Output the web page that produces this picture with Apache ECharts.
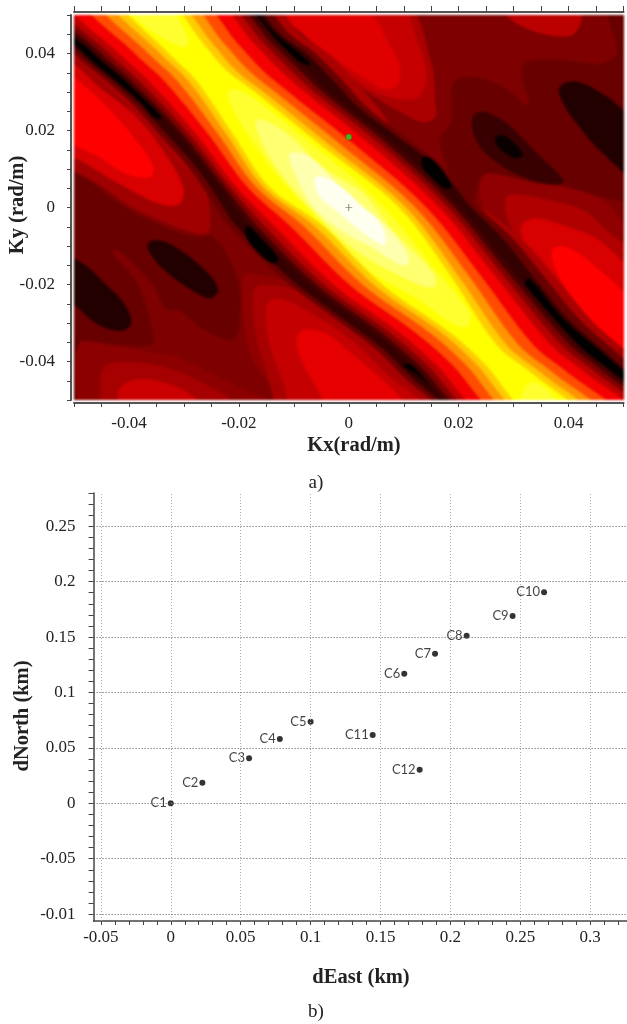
<!DOCTYPE html>
<html><head><meta charset="utf-8">
<style>html,body{margin:0;padding:0;background:#fff}#c{width:627px;height:1024px}</style>
<script src="https://cdn.jsdelivr.net/npm/echarts@6/dist/echarts.min.js"></script>
</head><body><div id="c"></div>
<script>
// ---- panel a) axis ticks (rad/m)
const kTicks=[-0.05,-0.045,-0.04,-0.035,-0.03,-0.025,-0.02,-0.015,-0.01,-0.005,0,0.005,0.01,0.015,0.02,0.025,0.03,0.035,0.04,0.045,0.05];
const kLabels=[-0.04,-0.02,0,0.02,0.04];
// ---- panel a) contour outlines, in 1e-3 rad/m: [kx,ky]
const ridgeRightKy=[53.8,42.5,35.6,29.6,15.7,0.1,-17.6,-35.8,-42.8,-54.5];
const ridgeLeftKy=[53.8,39.9,33,19.2,5.3,-4.7,-20.2,-32.4,-40.2,-54.5];
const ridgeR0=[-33.2,-26.5,-22.3,-16.8,-4.7,9.0,18.4,26.9,33.0,42.7];
const ridgeR1=[-31.8,-24.8,-20.6,-15.2,-3.1,10.3,19.8,28.7,34.8,44.5];
const ridgeR2=[-29.9,-22.7,-18.3,-13.1,-1.0,12.0,21.7,30.9,37,46.7];
const ridgeR3=[-27.7,-20.2,-15.7,-10.7,1.5,14,23.9,33.6,39.7,49.4];
const ridgeR4=[-25.1,-17.2,-12.5,-7.7,4.4,16.4,26.5,36.8,42.9,52.6];
const ridgeR5=[-23.6,-15.4,-10.6,-6,6.2,17.9,28,38.7,44.8,54.5];
const ridgeR6=[-22.3,-13.9,-9,-4.5,7.6,19.1,29.3,40.3,46.4,56.1];
const ridgeR7=[-21.1,-12.5,-7.6,-3.2,9,20.2,30.5,41.8,47.9,57.6];
const ridgeL0=[-41.7,-32.6,-27.7,-21.1,-14.4,-4.7,6.3,18.4,24.5,33.6];
const ridgeL1=[-43.4,-34.2,-29.2,-22.3,-15.5,-6.3,4.7,16.8,22.9,32.3];
const ridgeL2=[-45.5,-36.3,-31.2,-23.8,-16.8,-8.3,2.7,14.7,20.9,30.6];
const ridgeL3=[-48,-38.8,-33.6,-25.6,-18.4,-10.7,0.3,12.1,18.4,28.5];
const ridgeL4=[-51,-41.7,-36.4,-27.8,-20.4,-13.6,-2.6,9.2,15.5,26.1];
const ridgeL5=[-52.8,-43.5,-38.1,-29.1,-21.5,-15.3,-4.3,7.4,13.8,24.6];
const ridgeL6=[-54.3,-44.9,-39.5,-30.2,-22.5,-16.7,-5.7,5.9,12.3,23.4];
const ridgeL7=[-55.7,-46.3,-40.7,-31.1,-23.3,-18,-7,4.5,11,22.3];
const paleTop=[[-41.7,53.8],[-39.3,49.9],[-35,45.1],[-30.2,41.7],[-29.2,43],[-31.4,49.9],[-33.2,53.8]];
const paleBottom=[[32,-47],[34,-45.5],[38,-50.5],[38,-55],[31,-55]];
const pale1=[[-21.7,30.4],[-19.2,30],[-14.4,25.2],[-4.7,14],[2.6,5.3],[9,-4.2],[14.8,-14.6],[21.7,-26.7],[21.7,-30.6],[19,-30.2],[12.9,-24.1],[3.8,-16.4],[-3.5,-6],[-13.2,8.8],[-19.2,20.9],[-21.7,27.8]];
const pale2=[[-16.8,22.6],[-12,20],[-4.7,10.5],[2.6,3.6],[7.5,-5.1],[15.4,-17.2],[15.4,-20.7],[9.9,-18.1],[1.4,-11.2],[-7.1,0.1],[-14.4,13.1]];
const pale3=[[-10.7,14],[-7.1,13.1],[0.2,2.7],[6.3,-4.2],[10.5,-11.6],[10.8,-14.6],[9,-14.6],[3.8,-9.9],[0.2,-7.3],[-5.9,-0.7],[-9.5,7.9]];
const pale4=[[-5.9,7.9],[-2.2,6.2],[2.6,0.1],[5.7,-4.2],[6.6,-9.4],[3.8,-7.7],[-2.2,-0.8],[-5.6,3.6]];
const leftBlob3=[[-52,40],[-38.7,26.1],[-30.8,15.7],[-26.5,6.2],[-25.3,-0.8],[-25.6,-6.4],[-28.3,-6.4],[-35,-2.9],[-39.9,0.5],[-44.7,5.3],[-52,13.1]];
const leftBlob2=[[-52,38.2],[-44.7,30.4],[-38.7,23.5],[-33.8,14.8],[-30.2,5.3],[-30.8,1],[-34.4,1],[-41.7,6.2],[-47.8,11.4],[-52,15.7]];
const leftBlob1=[[-52,34.7],[-47.2,30.4],[-42.9,24.4],[-38.7,17.4],[-35.6,10.5],[-36.2,7.9],[-40.5,8.8],[-45.3,13.1],[-52,19.2]];
const lowLeft=[[-52,11.4],[-44.7,4],[-39.9,-0.8],[-35,-4.2],[-28.3,-7.7],[-24.7,-7.7],[-20.4,-18.1],[-19.8,-26.3],[-21,-34.1],[-26.5,-31.5],[-30.8,-26.7],[-33.2,-26.3],[-35.6,-20.2],[-41.7,-11.2],[-43.2,-11.6],[-38.7,-19.4],[-35.6,-33.2],[-36.2,-35.8],[-42.9,-35.4],[-49,-34.5],[-52,-35]];
const lowEdge=[[-52,-35],[-49,-34.5],[-49.6,-51],[-52,-51]];
const lowRight=[[16.6,17],[18.7,22.6],[19,32.1],[21.4,33.9],[27.5,31.7],[32.7,26.5],[31.5,34.7],[32.4,37.8],[39,38.2],[45.7,37.3],[48.8,40],[47.2,49.9],[47.2,53.8],[53,53.8],[53,2.7],[46.3,2.7],[39,5.7],[34.2,6.2],[25.7,8.8],[23.9,7],[22,0]];
const holeA=[[-36.5,-9.4],[-34.4,-8.6],[-30.2,-11.6],[-25.3,-17.6],[-23.8,-21.5],[-25.3,-23.5],[-28.9,-21.1],[-33.8,-15.9],[-36.2,-11.6]];
const holeB=[[-52,-12.9],[-48.4,-14.6],[-44.7,-19.4],[-41.1,-24.6],[-39.6,-29.8],[-41.1,-31.9],[-45.3,-30.6],[-49,-26.3],[-52,-21.5]];
const holeC=[[22.6,23.5],[24.5,24.8],[28.7,21.8],[34.2,14],[39,7],[37.8,6],[31.8,7.9],[25.7,13.1],[23,18.3]];
const holeC2=[[26.7,17.9],[28.1,18.7],[30.5,16.1],[31.6,13.5],[30.2,12.9],[27.5,15.3]];
const holeD=[[38.4,31.3],[41.5,32.6],[47,28.7],[50,25.2],[53,21.8],[53,7],[46.3,14],[41.5,21.8],[39.1,27]];
const bottomLeft3=[[-49.6,-51],[-49,-35.4],[-44.1,-35.8],[-35,-38],[-32,-38.4],[-18,-48],[-14.4,-50.6],[-14.4,-56],[-49.6,-56]];
const bottomLeft2=[[-45.3,-50.6],[-44.7,-41.9],[-41.1,-40.2],[-32.6,-41.9],[-23.5,-48],[-21.1,-51],[-21,-56],[-45.3,-56]];
const bottomLeft1=[[-42,-50.1],[-41.7,-47.1],[-39.3,-44.9],[-33.8,-45.4],[-27.1,-50.6],[-27,-56],[-42,-56]];
const bottomMid4=[[-19.2,-18.1],[-17.7,-17.2],[-8.3,-20.7],[3.8,-33.7],[16,-51],[16,-56],[-12,-56],[-12,-51],[-17.4,-39.7],[-18.9,-31.9]];
const bottomMid3=[[-17.1,-21.1],[-14.4,-20.2],[-8.3,-22.4],[3.8,-35.4],[16,-51],[16,-56],[-10.7,-56],[-15,-42.3],[-17.1,-31.1]];
const bottomMid2=[[-15,-25.4],[-13.2,-23.7],[-9.5,-25.4],[0.2,-34.1],[7.5,-44.1],[13.5,-51],[13.5,-56],[-8.9,-56],[-12,-44.9],[-14.4,-35.4]];
const bottomMid1=[[-9.5,-35],[-8.3,-31.9],[-4.1,-32.8],[0.2,-37.6],[3.8,-41.9],[9.9,-50.6],[9.9,-56],[-4.1,-56],[-4.7,-50.1],[-8.3,-40.6]];
const topMid3=[[9.9,53.8],[15,37.3],[15.7,27],[15.7,23.5],[13.5,22.2],[9.9,24.4],[3.8,29.6],[-2.2,35.6],[-11.3,53.8]];
const topMid2=[[8.7,53.8],[12.6,42.5],[14.1,34.7],[13.5,30.4],[12.3,28.2],[7.5,28.7],[2.6,31.7],[-2.2,38.2],[-11.3,53.8]];
const topMid1=[[-14.4,53.8],[3.8,49.9],[6.9,43.4],[9.3,36.5],[8.7,31.7],[6.3,30.8],[2.6,33.9],[0.2,36],[-8.3,45.1]];
const topRight=[[28.7,53.8],[28.7,49.9],[34.2,45.6],[40.3,44.7],[42.1,47.7],[42.1,53.8]];
const lowerRight4=[[23.9,7],[25.7,8.8],[34.2,6.2],[39,5.3],[46.3,1.8],[50,-4.2],[53,-7.7],[53,-53],[46.3,-42.3],[28.1,-11.2],[24.5,0.1]];
const lowerRight3=[[28.7,2.7],[31.8,3.1],[36.6,1.8],[42.7,-0.8],[48.7,-8.1],[53,-12],[53,-53],[46.3,-43.2],[34.2,-16.4],[29.3,-4.2]];
const lowerRight2=[[31.5,-4.7],[34.2,-2.9],[39,-4.7],[45.1,-8.1],[50,-14.2],[53,-18.1],[53,-53],[42.7,-34.1],[36.6,-22],[32.4,-11.6]];
const lowerRight1=[[37.2,-10.7],[39.6,-10.3],[43.9,-14.2],[50,-22],[53,-26.7],[53,-53],[45.1,-31.5],[39.6,-21.1],[37.2,-14.2]];
const trough1Ky=[50,43.4,38.2,33.9,27,17.4,10.5,1.8,-3.8,-15,-19.8,-28.9,-36.7,-44.5,-50.1,-55.3];
const trough1Mid=[-59.6,-52.5,-48.6,-44.9,-39.4,-33.4,-29.1,-24.9,-22.4,-14.6,-10.9,-2.4,4.9,10.4,15.2,19.4];
const trough1Dark=[-58.4,-51.3,-47.4,-43.7,-38.2,-32,-27.7,-23.5,-21,-13.2,-9.5,-1,6.3,11.8,16.6,20.8];
const trough1Inner=[-54,-46.9,-43,-39.3,-33.8,-27.8,-23.5,-19.3,-16.8,-9,-5.3,3.2,10.5,16,20.8,25];
const trough1WideA=[[-60.6,50],[-53.5,43.4],[-49.6,38.2],[-45.9,33.9],[-40.4,27],[-34.4,17.4],[-30,10.5],[-26,10.5],[-27.8,17.4],[-33.8,27],[-39.3,33.9],[-43,38.2],[-46.9,43.4],[-54,50]];
const trough1WideB=[[-9,-19.8],[-3.4,-28.9],[3.9,-36.7],[9.4,-44.5],[14.2,-50.1],[18.4,-55.3],[25,-55.3],[20.8,-50.1],[16,-44.5],[10.5,-36.7],[3.2,-28.9],[-5.3,-19.8]];
const trough1BlackA=[[-58,50],[-50.6,43.4],[-46.7,38.2],[-43,33.9],[-37.5,27],[-35.5,23.5],[-34,23.5],[-35,27],[-41,33.9],[-44.7,38.2],[-48.5,43.4],[-55.5,50]];
const trough1BlackB=[[-18.5,-5],[-17,-6],[-13,-13],[-13.5,-14.5],[-15.5,-13],[-18.5,-8]];
const trough1BlackC=[[10,-41],[13,-44],[19.5,-52.5],[20,-56],[24,-56],[17,-44],[12,-41]];
const trough2Ky=[54,45.1,39.9,33,26.1,19.2,12.2,6.2,0.5,-8.1,-18.5,-28.9,-36.7,-43.6,-52];
const trough2Mid=[-16.5,-10.9,-6,-1.2,3.2,9.4,15.8,20.1,23.3,29.8,35.8,41.8,47.9,53.4,60];
const trough2Dark=[-18.2,-12.6,-7.7,-2.9,1.6,8,14.6,18.8,21.9,28,33.8,39.8,45.9,51.4,58];
const trough2Inner=[-23,-17.4,-12.5,-7.7,-2.8,3.9,10.5,14.8,17.8,23.3,28.8,34.8,40.9,46.4,53];
const trough2WideA=[[-14.5,54],[-8.9,45.1],[-4,39.9],[0.8,33],[5.2,26.1],[8,19.2],[5,19.2],[-2.8,26.1],[-7.7,33],[-12.5,39.9],[-17.4,45.1],[-23,54]];
const trough2WideB=[[23,0.5],[31.3,-8.1],[37.8,-18.5],[43.8,-28.9],[49.9,-36.7],[55.4,-43.6],[62,-52],[53,-52],[46.4,-43.6],[40.9,-36.7],[34.8,-28.9],[28.8,-18.5],[23.3,-8.1],[19,0.5]];
const trough2BlackA=[[-19,54],[-13.4,45.1],[-9,40],[-7,37],[-9,38],[-11,39.9],[-16,45.1],[-21,54]];
const trough2BlackB=[[13.5,13.1],[15.4,12.2],[18.7,5.7],[17.8,4.9],[15.4,7],[13.5,10.5]];
const trough2BlackC=[[32,-20],[32.8,-18.5],[38.9,-28.9],[45.2,-36.7],[50.9,-43.6],[57.5,-52],[55,-52],[48,-43.6],[42.5,-36.7],[36.5,-28.9],[32,-22]];
const field=[[-60,60],[60,60],[60,-60],[-60,-60]];
// ---- panel a) markers (rad/m)
const peakPoint=[[0,0]];
const aliasPoint=[[0,0.0183]];
// ---- panel b) stations (km)
const stationNames=['C1','C2','C3','C4','C5','C6','C7','C8','C9','C10','C11','C12'];
const dEast=[0,0.0226,0.056,0.078,0.1,0.167,0.189,0.2116,0.2445,0.267,0.1444,0.178];
const dNorth=[0,0.0186,0.0406,0.058,0.0737,0.117,0.135,0.1513,0.169,0.1904,0.0616,0.0303];
const eastMajor=[-0.05,0,0.05,0.1,0.15,0.2,0.25,0.3];
const eastMinor=[-0.05,-0.04,-0.03,-0.02,-0.01,0,0.01,0.02,0.03,0.04,0.05,0.06,0.07,0.08,0.09,0.1,0.11,0.12,0.13,0.14,0.15,0.16,0.17,0.18,0.19,0.2,0.21,0.22,0.23,0.24,0.25,0.26,0.27,0.28,0.29,0.3,0.31,0.32];
const northMajor=[-0.1,-0.05,0,0.05,0.1,0.15,0.2,0.25];
const northLabels=['-0.01','-0.05','0','0.05','0.1','0.15','0.2','0.25'];
const northMinor=[-0.1,-0.09,-0.08,-0.07,-0.06,-0.05,-0.04,-0.03,-0.02,-0.01,0,0.01,0.02,0.03,0.04,0.05,0.06,0.07,0.08,0.09,0.1,0.11,0.12,0.13,0.14,0.15,0.16,0.17,0.18,0.19,0.2,0.21,0.22,0.23,0.24,0.25,0.26,0.27,0.28];

const zip=(xs,ys)=>xs.map((x,i)=>[x,ys[i]]);
const ridge=(l,r)=>zip(l,ridgeLeftKy).concat(zip(r,ridgeRightKy).reverse());
const t1=(o)=>zip(o,trough1Ky).concat(zip(trough1Inner,trough1Ky).reverse());
const t2=(o)=>zip(o,trough2Ky).concat(zip(trough2Inner,trough2Ky).reverse());
const layers=[
 ['#7e0000',field],
 ['#680000',lowLeft],['#640000',lowEdge],['#680000',lowRight],
 ['#220000',holeA],['#220000',holeB],['#380000',holeC],['#0a0000',holeC2],['#220000',holeD],
 ['#a00000',leftBlob3],['#d80000',leftBlob2],['#ff0000',leftBlob1],
 ['#8c0000',bottomLeft3],['#a60000',bottomLeft2],['#cc0000',bottomLeft1],
 ['#900000',bottomMid4],['#a80000',bottomMid3],['#c40000',bottomMid2],['#e60000',bottomMid1],
 ['#aa0000',topMid3],['#c60000',topMid2],['#e00000',topMid1],['#bb0000',topRight],
 ['#900000',lowerRight4],['#b00000',lowerRight3],['#d80000',lowerRight2],['#ff0000',lowerRight1],
 ['#aa0000',trough1WideA],['#aa0000',trough1WideB],['#aa0000',trough2WideA],['#aa0000',trough2WideB],
 ['#680000',t1(trough1Mid)],['#340000',t1(trough1Dark)],
 ['#680000',t2(trough2Mid)],['#340000',t2(trough2Dark)],
 ['#000000',trough1BlackA],['#000000',trough1BlackB],['#000000',trough1BlackC],
 ['#000000',trough2BlackA],['#000000',trough2BlackB],['#000000',trough2BlackC],
 ['#440000',ridge(ridgeL7,ridgeR7)],['#800000',ridge(ridgeL6,ridgeR6)],['#bb0000',ridge(ridgeL5,ridgeR5)],
 ['#f40000',ridge(ridgeL4,ridgeR4)],['#ff4c00',ridge(ridgeL3,ridgeR3)],['#ff9400',ridge(ridgeL2,ridgeR2)],
 ['#ffcc00',ridge(ridgeL1,ridgeR1)],['#ffff00',ridge(ridgeL0,ridgeR0)],
 ['#ffff30',paleTop],['#ffff30',paleBottom],['#ffff30',pale1],['#ffff70',pale2],['#ffffb0',pale3],['#fffff0',pale4]
];

const SERIF="'Liberation Serif','Times New Roman',serif";
const TICK=17;
const axisBase=(extra)=>Object.assign({type:'value',splitLine:{show:false},minorTick:{show:false}},extra);
const chart=echarts.init(document.getElementById('c'),null,{renderer:'canvas'});
const gridLines=eastMajor.map(v=>({xAxis:v,lineStyle:{color:'#aaaaaa',type:[1,2],width:1}}))
 .concat(northMajor.map(v=>({yAxis:v,lineStyle:{color:'#555555',type:[1,2],width:1}})));
const bold=(t,x,y,rot)=>({type:'text',x:x,y:y,rotation:rot||0,style:{text:t,font:"bold 20.5px "+SERIF,fill:'#222',align:'center',verticalAlign:'middle'}});
chart.setOption({
 animation:false,backgroundColor:'#ffffff',
 grid:[
  {left:74,top:15,width:549.6,height:385,outerBoundsMode:'none'},
  {left:93.6,top:493,width:533.4,height:428,outerBoundsMode:'none'}
 ],
 xAxis:[
  axisBase({gridIndex:0,position:'bottom',offset:3,min:-0.05,max:0.05,
   axisLine:{onZero:false,lineStyle:{color:'#555',width:2}},
   axisTick:{show:true,length:4,customValues:kTicks,lineStyle:{color:'#444'}},
   axisLabel:{customValues:kLabels,formatter:v=>String(v),fontFamily:SERIF,fontSize:TICK,color:'#222',margin:12}}),
  axisBase({gridIndex:0,position:'top',offset:3,min:-0.05,max:0.05,
   axisLine:{onZero:false,lineStyle:{color:'#555',width:2}},
   axisTick:{show:true,length:6,customValues:kTicks,lineStyle:{color:'#444'}},
   axisLabel:{show:false}}),
  axisBase({gridIndex:1,position:'bottom',min:-0.0552,max:0.3263,
   axisLine:{onZero:false,lineStyle:{color:'#444',width:1.5}},
   axisTick:{show:true,length:4,customValues:eastMinor,lineStyle:{color:'#444'}},
   axisLabel:{customValues:eastMajor,formatter:v=>String(v),fontFamily:SERIF,fontSize:TICK,color:'#222',margin:8}})
 ],
 yAxis:[
  axisBase({gridIndex:0,position:'left',offset:3,min:-0.05,max:0.05,
   axisLine:{onZero:false,lineStyle:{color:'#555',width:2}},
   axisTick:{show:true,length:4,customValues:kTicks,lineStyle:{color:'#444'}},
   axisLabel:{customValues:kLabels,formatter:v=>String(v),fontFamily:SERIF,fontSize:TICK,color:'#222',margin:16}}),
  axisBase({gridIndex:1,position:'left',min:-0.1062,max:0.28,
   axisLine:{onZero:false,lineStyle:{color:'#444',width:1.5}},
   axisTick:{show:true,length:5,customValues:northMinor,lineStyle:{color:'#444'}},
   axisLabel:{customValues:northMajor,formatter:v=>northLabels[northMajor.indexOf(v)],fontFamily:SERIF,fontSize:TICK,color:'#222',margin:18}})
 ],
 series:[
  {type:'custom',xAxisIndex:0,yAxisIndex:0,clip:true,silent:true,zlevel:-1,data:layers.map((l,i)=>[i]),
   encode:{x:[],y:[]},
   renderItem:(p,api)=>{
    const l=layers[p.dataIndex];
    return {type:'polygon',shape:{points:l[1].map(q=>api.coord([q[0]/1000,q[1]/1000])),smooth:l[1]===field?0:0.35},style:{fill:l[0],stroke:l[0],lineWidth:0.6}};
   }},
  {type:'scatter',xAxisIndex:0,yAxisIndex:0,data:peakPoint,silent:true,symbol:'path://M4.5 0H5.5V4.5H10V5.5H5.5V10H4.5V5.5H0V4.5H4.5Z',symbolSize:7,itemStyle:{color:'#333'},z:5},
  {type:'scatter',xAxisIndex:0,yAxisIndex:0,data:aliasPoint,silent:true,symbolSize:6,itemStyle:{color:'#22dd22',borderColor:'#226622',borderWidth:0.5},z:5},
  {type:'scatter',xAxisIndex:2,yAxisIndex:1,silent:true,symbolSize:6,itemStyle:{color:'#000'},
   data:dEast.map((x,i)=>({name:stationNames[i],value:[x,dNorth[i]]})),
   label:{show:true,position:'left',distance:1,formatter:p=>p.name,fontFamily:"Lato,'Open Sans',sans-serif",fontSize:13,color:'#111'},
   labelLayout:{hideOverlap:false},
   markLine:{silent:true,symbol:'none',label:{show:false},animation:false,data:gridLines}}
 ],
 graphic:[
  bold('Ky (rad/m)',18,205,Math.PI/2),
  bold('Kx(rad/m)',354,446),
  bold('dNorth (km)',23,716,Math.PI/2),
  bold('dEast (km)',361,978),
  {type:'text',x:316,y:483,style:{text:'a)',font:"19px "+SERIF,fill:'#222',align:'center',verticalAlign:'middle'}},
  {type:'text',x:316,y:1012,style:{text:'b)',font:"19px "+SERIF,fill:'#222',align:'center',verticalAlign:'middle'}}
 ]
});
const blurLayer=chart.getZr().painter.getLayer(-1);
if(blurLayer&&blurLayer.dom)blurLayer.dom.style.filter='blur(1px)';
</script></body></html>
